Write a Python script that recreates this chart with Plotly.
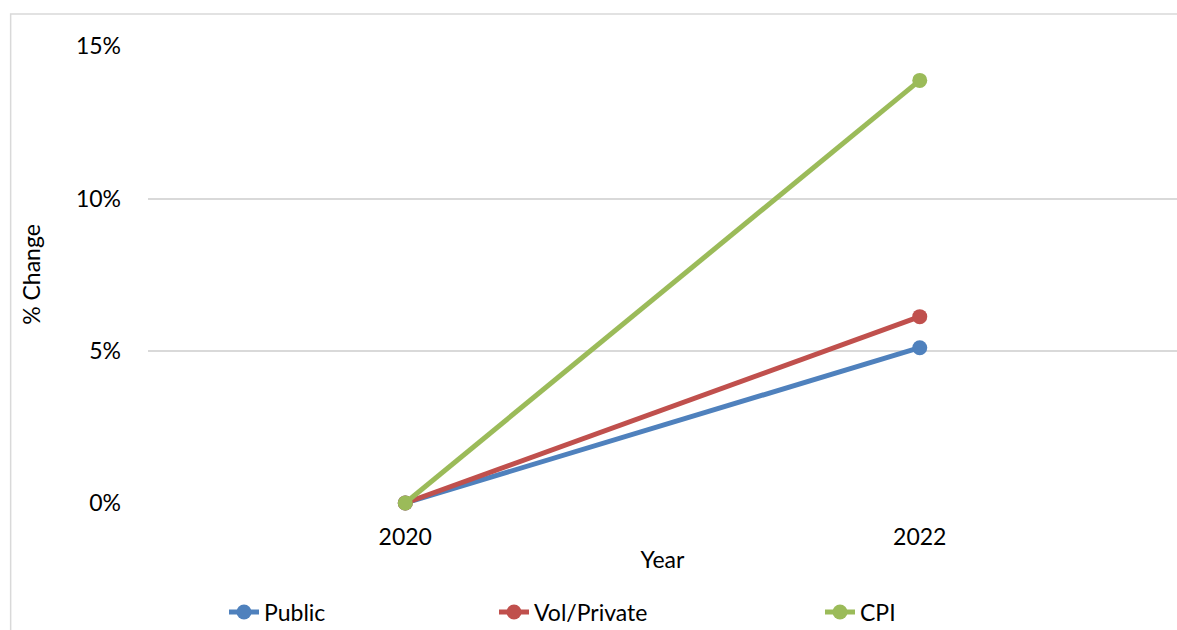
import plotly.graph_objects as go

years = ["2020", "2022"]
public = [0.0, 0.0510]
vol_private = [0.0, 0.0612]
cpi = [0.0, 0.1388]
series_names = ["Public", "Vol/Private", "CPI"]
colors = ["#4F81BD", "#C0504D", "#9BBB59"]

W, H = 1177, 630
FONT = "Lato"
fig = go.Figure()
legend_ids = ["legend", "legend2", "legend3"]
legend_x = [224, 494, 820]
for name, vals, col, lg in zip(series_names, [public, vol_private, cpi], colors, legend_ids):
    fig.add_trace(go.Scatter(
        x=years, y=vals, name=name, mode="lines+markers",
        line=dict(color=col, width=5),
        marker=dict(color=col, size=15),
        cliponaxis=False, legend=lg,
    ))

layout_legends = {}
for lg, px in zip(legend_ids, legend_x):
    layout_legends[lg] = dict(
        xref="container", yref="container",
        x=px / W, y=1 - 612 / H, xanchor="left", yanchor="middle",
        orientation="h", bgcolor="rgba(0,0,0,0)",
        font=dict(family=FONT, size=23, color="#000000"),
    )

fig.update_layout(
    width=W, height=H,
    margin=dict(l=147.5, r=0, t=46, b=127),
    paper_bgcolor="white", plot_bgcolor="white",
    font=dict(family=FONT, size=23, color="#000000"),
    xaxis=dict(
        type="category", range=[-0.5, 1.5], showgrid=False,
        showline=False, zeroline=False, ticks="",
        tickfont=dict(family=FONT, size=23, color="#000000"),
        ticklabelstandoff=18,
        title=dict(text="Year", font=dict(family=FONT, size=23, color="#000000"), standoff=2),
    ),
    yaxis=dict(
        range=[0, 0.1501], tickvals=[0, 0.05, 0.10, 0.15], tickformat=".0%",
        showgrid=True, gridcolor="#D9D9D9", gridwidth=1.5,
        zeroline=False, showline=False, ticks="",
        tickfont=dict(family=FONT, size=23, color="#000000"),
        ticklabelstandoff=26,
        title=dict(text="% Change", font=dict(family=FONT, size=23, color="#000000"), standoff=28),
    ),
    showlegend=True,
    **layout_legends,
)

# chart frame border (left and top visible)
fig.add_shape(type="rect", xref="paper", yref="paper",
              x0=(10 - 147.5) / 1030, x1=1.2, y0=-0.6, y1=(503 - 14) / 457,
              line=dict(color="#D9D9D9", width=1.5), layer="below")

fig.write_html("out.html", config={"displayModeBar": False},
               post_script="document.body.style.margin='0';document.body.style.overflow='hidden';")
